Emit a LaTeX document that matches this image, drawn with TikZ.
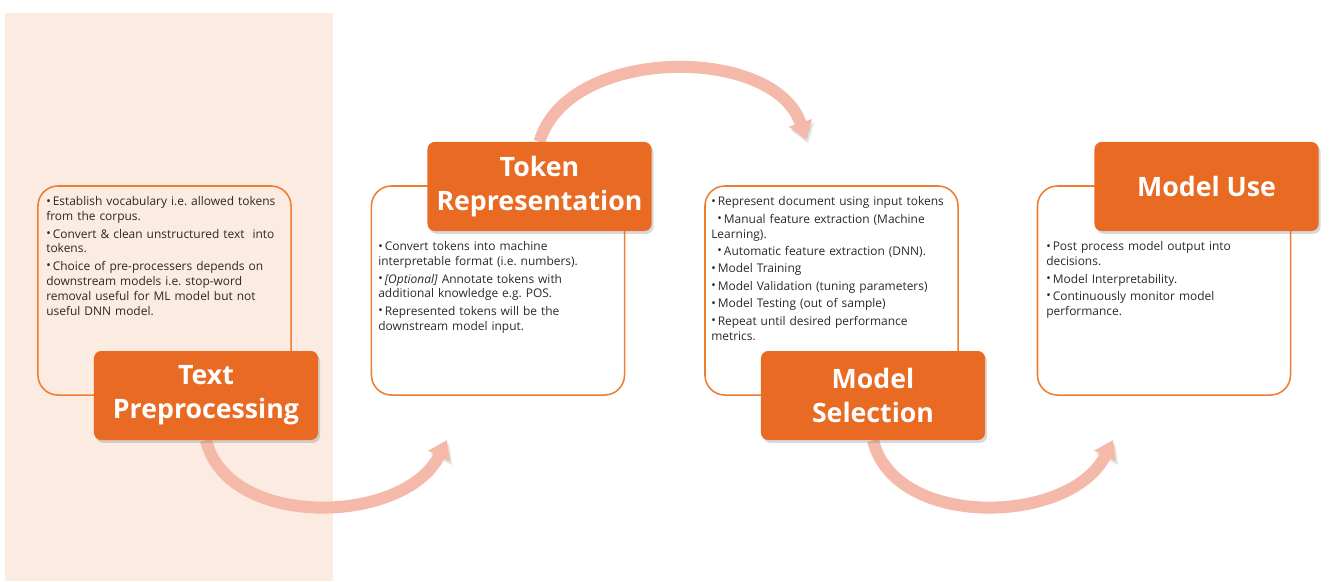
\documentclass[tikz,border=0pt]{standalone}
\usepackage{fontspec}
\setmainfont{Open Sans}
\usetikzlibrary{arrows.meta,calc,positioning,shadows}
\definecolor{band}{RGB}{252,235,225}
\definecolor{edge}{RGB}{237,125,49}
\definecolor{head}{RGB}{233,106,34}
\definecolor{flow}{RGB}{244,185,168}
\definecolor{ink}{RGB}{40,40,40}
\pgfdeclarelayer{bg}
\pgfsetlayers{bg,main}
\frenchspacing
\newcommand{\bul}{\raisebox{0.1ex}{\scalebox{1.0}{\textbullet}}}
\newcommand{\itm}{\par\noindent\hangindent=4.6pt\hangafter=1\makebox[4.6pt][l]{\bul}}
\newcommand{\subitm}{\par\noindent\hangindent=9pt\hangafter=1\hspace*{4.4pt}\makebox[4.6pt][l]{\bul}}

\begin{document}
\begin{tikzpicture}[
  x=0.025cm, y=-0.025cm, font=\fontsize{8.5}{10.6}\selectfont, text=ink,
  card/.style={draw=edge, line width=1.1pt, rounded corners=0.5cm,
    minimum width=6.325cm, minimum height=5.225cm, inner sep=0pt},
  stage/.style={fill=head, rounded corners=0.18cm, minimum width=5.6cm,
    minimum height=2.225cm, text=white, align=center,
    font=\fontsize{19}{24}\selectfont\bfseries,
    drop shadow={opacity=0.3, shadow xshift=1.5pt, shadow yshift=-2pt}},
  notes/.style={anchor=north west, inner sep=0pt, text width=6.2cm, align=left,
    execute at begin node=\setlength{\parskip}{1.8pt}},
  swoop/.style={draw=flow, line width=0.3cm,
    -{Triangle[width=0.58cm,length=0.45cm]},
    preaction={draw=black, opacity=0.1, transform canvas={shift={(1.5pt,-2.5pt)}}}}]
\useasboundingbox (0,0) rectangle (1338,581);

% the four stages
\node[card] (b1) at (164.5,290.5) {};
\node[card] (b2) at (498,290.5) {};
\node[card] (b3) at (831.5,290.5) {};
\node[card] (b4) at (1164,290.5) {};

\node[notes] (n1) at (46,188) {\itm Establish vocabulary i.e. allowed tokens\\from the corpus.
  \itm Convert \& clean unstructured text\ \ into\\tokens.
  \itm Choice of pre-processers depends on\\downstream models i.e. stop-word\\removal useful for ML model but not\\useful DNN model.};
\node[notes] (n2) at (378,233) {\itm Convert tokens into machine\\interpretable format (i.e. numbers).
  \itm \textit{[Optional]} Annotate tokens with\\additional knowledge e.g. POS.
  \itm Represented tokens will be the\\downstream model input.};
\node[notes] (n3) at (711,188) {\itm Represent document using input tokens
  \subitm Manual feature extraction (Machine\\Learning).
  \subitm Automatic feature extraction (DNN).
  \itm Model Training
  \itm Model Validation (tuning parameters)
  \itm Model Testing (out of sample)
  \itm Repeat until desired performance\\metrics.};
\node[notes] (n4) at (1046,233) {\itm Post process model output into\\decisions.
  \itm Model Interpretability.
  \itm Continuously monitor model\\performance.};

\node[stage] (t1) at (206,395.5) {Text\\Preprocessing};
\node[stage] (t2) at (539.5,186.5) {Token\\Representation};
\node[stage] (t3) at (873,395.5) {Model\\Selection};
\node[stage] (t4) at (1206.5,186.5) {Model Use};

% ends of the swoops
\coordinate (e1) at (447,440);
\coordinate (e2) at (806,140);
\coordinate (e3) at (1113,440);

\begin{pgfonlayer}{bg}
\fill[band] (5,13) rectangle (333,581);
\draw[swoop] (t1.south) .. controls (228,530) and (405,525) .. (e1);
\draw[swoop] (t2.north) .. controls (568,45) and (775,45) .. (e2);
\draw[swoop] (t3.south) .. controls (895,530) and (1071,525) .. (e3);
\end{pgfonlayer}

\end{tikzpicture}
\end{document}
